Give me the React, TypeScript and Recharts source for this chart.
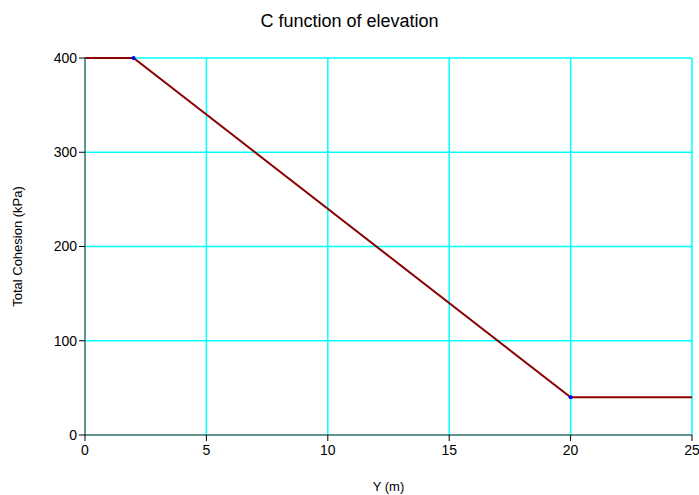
import { CartesianGrid, Label, Line, LineChart, XAxis, YAxis } from "recharts";

const elevation = [0, 2, 20, 25];
const cohesion = [400, 400, 40, 40];
const markedPoints = [1, 2];
const xTicks = [0, 5, 10, 15, 20, 25];
const yTicks = [0, 100, 200, 300, 400];

const data = elevation.map((y, i) => ({ y, c: cohesion[i] }));

const font = "'Liberation Sans', Arial, sans-serif";

const BlueDot = (props: any) => {
  const { cx, cy, index } = props;
  if (!markedPoints.includes(index)) return <g key={`d${index}`} />;
  return <circle key={`d${index}`} cx={cx} cy={cy} r={2} fill="#0000ff" stroke="none" />;
};

export default function App() {
  return (
    <div style={{ position: "absolute", left: 0, top: 0, width: 699, height: 495, fontFamily: font }}>
      <div
        style={{
          position: "absolute",
          top: 11,
          width: 699,
          textAlign: "center",
          fontSize: 18,
          color: "#000",
        }}
      >
        C function of elevation
      </div>
      <LineChart width={699} height={495} data={data} margin={{ top: 58, right: 7, bottom: 0, left: 0 }}>
        <CartesianGrid
          stroke="#00ffff"
          strokeWidth={1.5}
          horizontalValues={yTicks.filter((t) => t > 0)}
          verticalValues={xTicks.filter((t) => t > 0)}
        />
        <XAxis
          dataKey="y"
          type="number"
          domain={[0, 25]}
          ticks={xTicks}
          height={60}
          stroke="#2e6e6e"
          strokeWidth={1.5}
          tickLine={{ stroke: "#000", strokeWidth: 1 }}
          tickSize={6}
          tickMargin={4}
          tick={{ fill: "#000", fontSize: 14, fontFamily: font }}
          interval={0}
        >
          <Label value="Y (m)" position="insideBottom" offset={4} fill="#000" fontSize={13} fontFamily={font} />
        </XAxis>
        <YAxis
          type="number"
          domain={[0, 400]}
          ticks={yTicks}
          width={85}
          stroke="#2e6e6e"
          strokeWidth={1.5}
          tickLine={{ stroke: "#000", strokeWidth: 1 }}
          tickSize={6}
          tickMargin={2}
          tick={{ fill: "#000", fontSize: 14, fontFamily: font }}
          interval={0}
        >
          <Label
            value="Total Cohesion (kPa)"
            angle={-90}
            position="insideLeft"
            offset={17}
            style={{ textAnchor: "middle" }}
            fill="#000"
            fontSize={13}
            fontFamily={font}
          />
        </YAxis>
        <Line
          type="linear"
          dataKey="c"
          stroke="#8b0000"
          strokeWidth={2}
          dot={BlueDot}
          activeDot={false}
          isAnimationActive={false}
        />
      </LineChart>
    </div>
  );
}
